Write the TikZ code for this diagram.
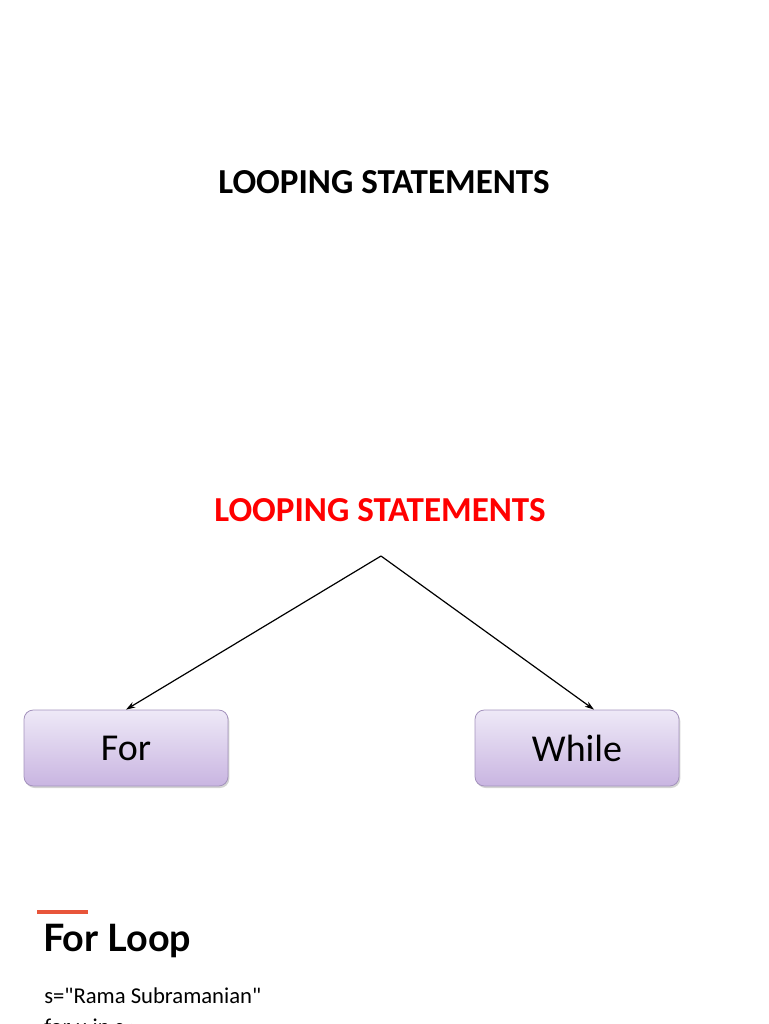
\documentclass[tikz,border=0pt]{standalone}
\usepackage{fontspec}
\setmainfont{Carlito}
\newfontfamily\headfont{Lato}
\newfontfamily\codefont{Carlito}[Ligatures=TeXOff]
\usetikzlibrary{arrows.meta,calc,shadows}

\definecolor{boxtop}{HTML}{EEE9F7}
\definecolor{boxbottom}{HTML}{C9B5E1}
\definecolor{boxline}{HTML}{A493BD}
\definecolor{titlered}{HTML}{FF0000}
\definecolor{barred}{HTML}{E8553A}

\begin{document}
\begin{tikzpicture}[x=0.75pt, y=-0.75pt, >={Stealth[length=7pt,width=4.5pt]},
	title/.style={font=\bfseries\fontsize{26.3}{30}\selectfont, anchor=base},
	loop box/.style={draw=boxline, line width=0.6pt, rounded corners=7pt,
		top color=boxtop, bottom color=boxbottom,
		drop shadow={shadow xshift=1pt, shadow yshift=-1.5pt, opacity=0.35},
		minimum width=153pt, minimum height=57pt,
		font=\fontsize{28.5}{32}\selectfont}]
	\useasboundingbox (0,0) rectangle (768,1024);
	\clip (0,0) rectangle (768,1024);
	
	\node [title] (title-top) at (384,193) {LOOPING STATEMENTS};
	\node [title, text=titlered] (title-loop) at (380,521) {LOOPING STATEMENTS};
	
	\coordinate (apex) at (381,556);
	
	\foreach \m/\l/\x in {for/For/126, while/While/577}
	\node [loop box] (\m) at (\x,748) {\l};
	
	\draw [->, line width=0.9pt] (apex) -- (for.north);
	\draw [->, line width=0.9pt] (apex) -- ($(while.north)+(17,0)$);
	
	% for loop section
	\draw [barred, line width=2.3pt] (37,912) -- (88,912);
	\node [anchor=base west, inner sep=0pt, font=\headfont\bfseries\fontsize{28.3}{32}\selectfont] (head) at (43,951) {For Loop};
	\node [anchor=base west, inner sep=0pt, font=\codefont\fontsize{17}{20}\selectfont] (line-1) at (44,1003) {s="Rama Subramanian"};
	\node [anchor=base west, inner sep=0pt, font=\codefont\fontsize{17}{20}\selectfont] (line-2) at (44,1034) {for u in s :};
\end{tikzpicture}
\end{document}
